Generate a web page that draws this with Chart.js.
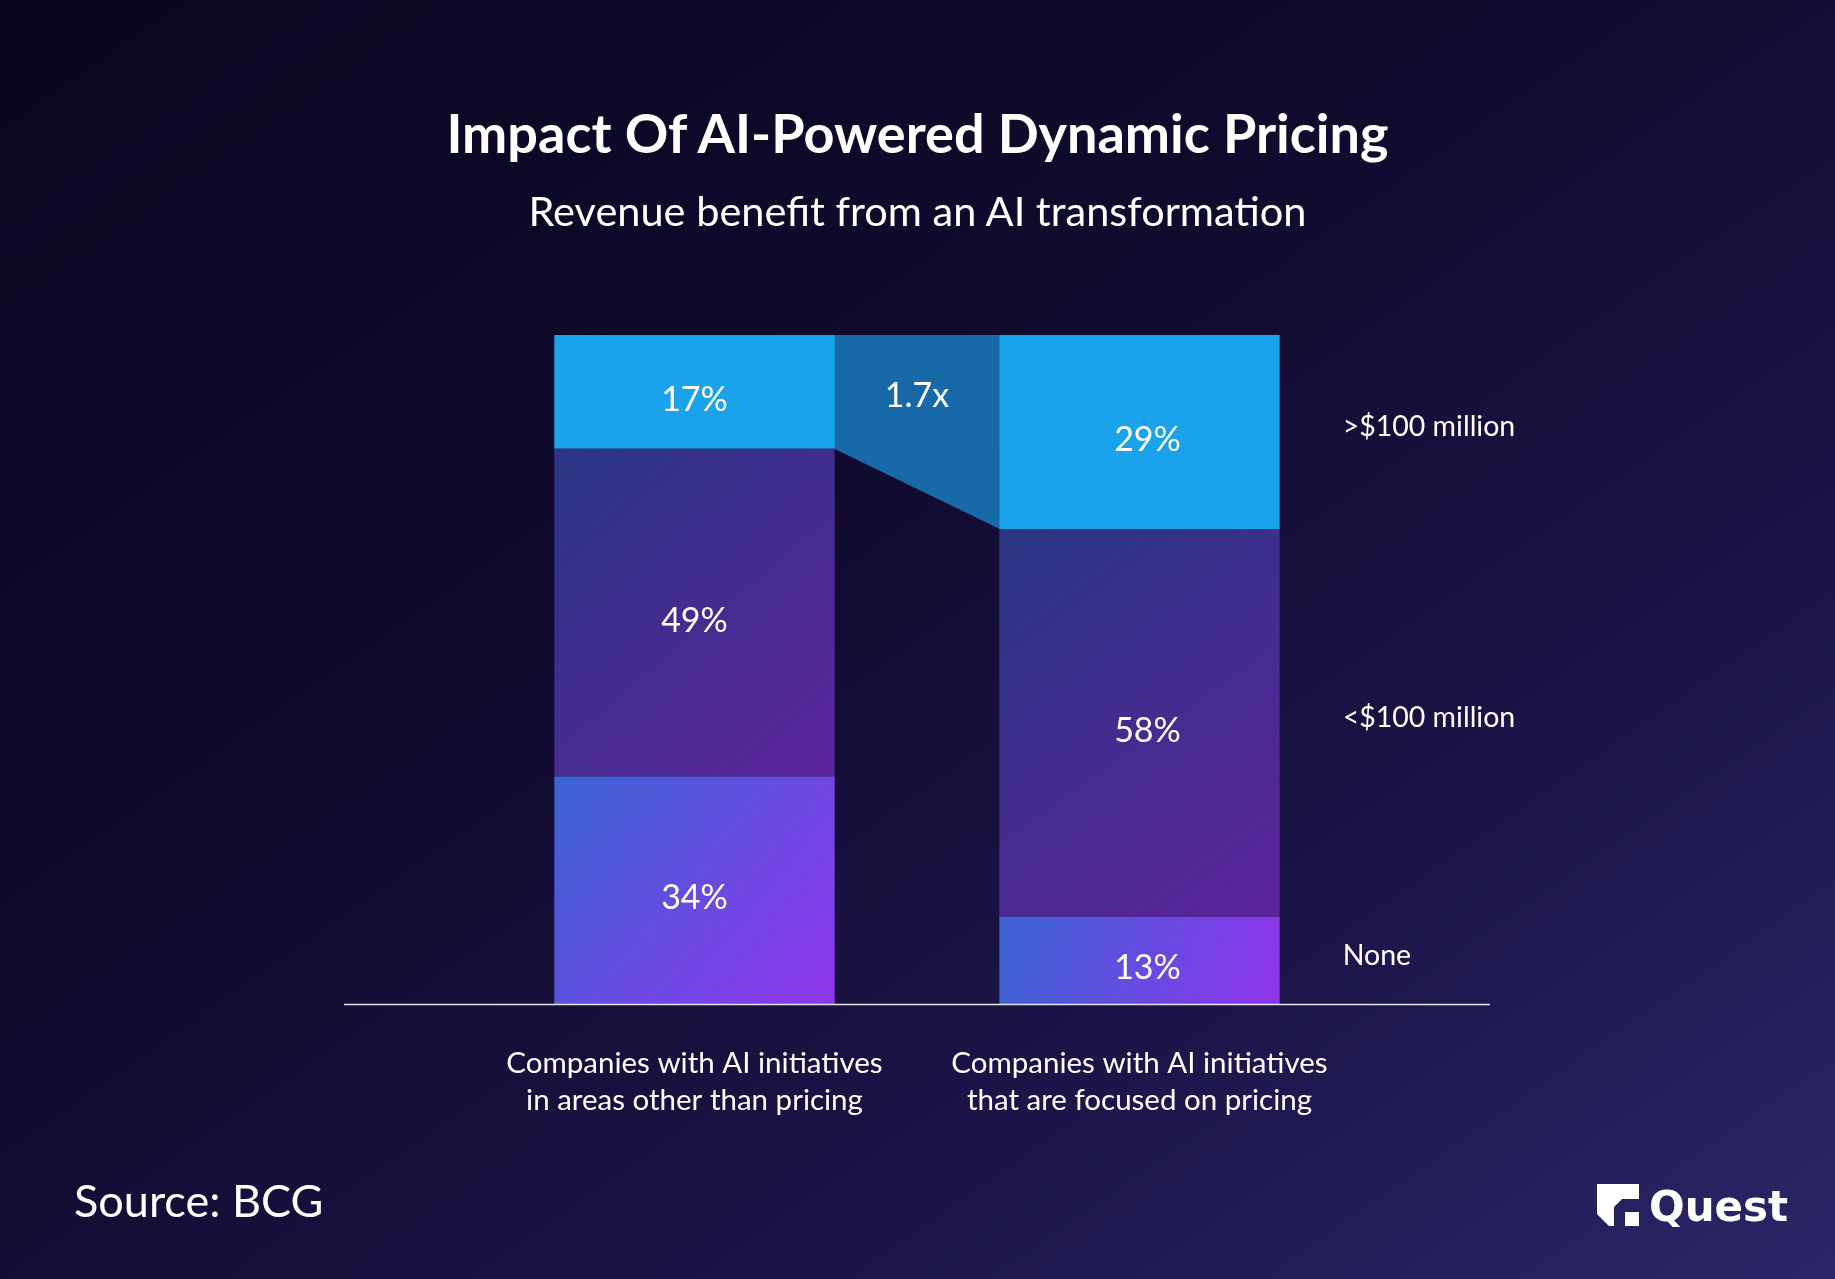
<!DOCTYPE html>
<html>
<head>
<meta charset="utf-8">
<script src="https://cdn.jsdelivr.net/npm/chart.js@4.4.1/dist/chart.umd.min.js"></script>
<style>
html,body{margin:0;padding:0;width:1835px;height:1279px;overflow:hidden;}
body{
  position:relative;
  background:linear-gradient(to bottom right,#0a0520 0%,#110a2d 40%,#1b1549 72%,#2b2668 100%);
  font-family:Lato,"Open Sans",sans-serif;color:#fff;
}
#chartBox{position:absolute;left:0;top:0;width:1835px;height:1279px;}
.txt{position:absolute;line-height:1;white-space:nowrap;}
#title{left:0;width:1835px;text-align:center;top:106px;font-size:54px;font-weight:700;}
#subtitle{left:0;width:1835px;text-align:center;top:190px;font-size:41.5px;font-weight:400;}
#source{left:74px;top:1178px;font-size:45px;font-weight:400;}
#logo{position:absolute;left:1597px;top:1184px;height:42px;}
#logo svg{position:absolute;left:0;top:0;}
#logo span{position:absolute;left:52px;top:2px;font-family:"DejaVu Sans",sans-serif;font-weight:700;font-size:42px;line-height:1;letter-spacing:0px;}
</style>
</head>
<body>
<div id="chartBox"><canvas id="c"></canvas></div>
<div class="txt" id="title">Impact Of AI-Powered Dynamic Pricing</div>
<div class="txt" id="subtitle">Revenue benefit from an AI transformation</div>
<div class="txt" id="source">Source: BCG</div>
<div id="logo">
  <svg width="42" height="42" viewBox="0 0 42 42">
    <path d="M0 0 H42 V15 H25 L17 23 V42 H12 L0 30 Z" fill="#fff"/>
    <path d="M28 28 H42 V42 H28 Z" fill="#fff"/>
  </svg>
  <span>Quest</span>
</div>
<script>
// ---- data ----
const categories = [
  ["Companies with AI initiatives", "in areas other than pricing"],
  ["Companies with AI initiatives", "that are focused on pricing"]
];
const seriesNames = ["None", "<$100 million", ">$100 million"];
const noneValues = [34, 13];
const underValues = [49, 58];
const overValues = [17, 29];
const multiplierLabel = "1.7x";

// ---- styles ----
const BAR_PCT = 0.63;
const LABEL_FONT = "34px Lato, sans-serif";

function segGradient(c0, c1) {
  return function (ctx) {
    const chart = ctx.chart;
    const xs = chart.scales.x, ys = chart.scales.y;
    if (ctx.type !== 'data' || !xs || !ys || !xs.width) return c0;
    const j = ctx.dataIndex, di = ctx.datasetIndex;
    let base = 0;
    for (let k = 0; k < di; k++) base += chart.data.datasets[k].data[j];
    const v = chart.data.datasets[di].data[j];
    const yTop = ys.getPixelForValue(base + v), yBot = ys.getPixelForValue(base);
    const xc = xs.getPixelForValue(j);
    const w = xs.width / chart.data.labels.length * BAR_PCT;
    const g = chart.ctx.createLinearGradient(xc - w / 2, yTop, xc + w / 2, yBot);
    g.addColorStop(0, c0);
    g.addColorStop(1, c1);
    return g;
  };
}

const decor = {
  id: 'decor',
  beforeDatasetsDraw(chart) {
    const ctx = chart.ctx;
    const top = chart.getDatasetMeta(2).data;
    const L = top[0], R = top[1];
    const lx = L.x + L.width / 2, rx = R.x - R.width / 2;
    ctx.save();
    ctx.fillStyle = '#1769a7';
    ctx.beginPath();
    ctx.moveTo(lx - 0.5, L.y);
    ctx.lineTo(rx + 0.5, R.y);
    ctx.lineTo(rx + 0.5, R.base);
    ctx.lineTo(lx - 0.5, L.base);
    ctx.closePath();
    ctx.fill();
    ctx.restore();
  },
  afterDatasetsDraw(chart) {
    const ctx = chart.ctx;
    const area = chart.chartArea;
    ctx.save();
    ctx.fillStyle = '#ffffff';
    ctx.textAlign = 'center';
    ctx.textBaseline = 'middle';
    ctx.font = LABEL_FONT;
    chart.data.datasets.forEach((ds, di) => {
      chart.getDatasetMeta(di).data.forEach((el, j) => {
        const cy = (el.y + el.base) / 2 + 8;
        ctx.fillText(ds.data[j] + '%', el.x + (j === 1 ? 8 : 0), cy);
      });
    });
    // multiplier
    const top = chart.getDatasetMeta(2).data;
    const L = top[0], R = top[1];
    ctx.fillText(multiplierLabel, ((L.x + L.width / 2) + (R.x - R.width / 2)) / 2, (L.y + L.base) / 2 + 4);
    // series names on the right
    ctx.textAlign = 'left';
    ctx.font = "28.5px Lato, sans-serif";
    chart.data.datasets.forEach((ds, di) => {
      const el = chart.getDatasetMeta(di).data[1];
      ctx.fillText(ds.label, el.x + el.width / 2 + 63, (el.y + el.base) / 2 - 5);
    });
    // category labels
    ctx.textAlign = 'center';
    ctx.font = "29.5px Lato, sans-serif";
    const meta0 = chart.getDatasetMeta(0).data;
    chart.data.labels.forEach((lab, j) => {
      const x = meta0[j].x;
      lab.forEach((line, k) => ctx.fillText(line, x, area.bottom + 59 + k * 37));
    });
    // baseline
    ctx.strokeStyle = '#e6e6f0';
    ctx.lineWidth = 1.5;
    ctx.beginPath();
    ctx.moveTo(area.left - 128, area.bottom + 0.5);
    ctx.lineTo(area.right + 128, area.bottom + 0.5);
    ctx.stroke();
    ctx.restore();
  }
};

new Chart(document.getElementById('c'), {
  type: 'bar',
  data: {
    labels: categories,
    datasets: [
      { label: seriesNames[0], data: noneValues, backgroundColor: segGradient('#3a64d4', '#9035ec') },
      { label: seriesNames[1], data: underValues, backgroundColor: segGradient('#293683', '#5c249b') },
      { label: seriesNames[2], data: overValues, backgroundColor: '#1aa2ea' }
    ]
  },
  options: {
    responsive: true,
    maintainAspectRatio: false,
    animation: false,
    layout: { padding: { left: 472, right: 473, top: 335, bottom: 275 } },
    datasets: { bar: { categoryPercentage: 1, barPercentage: BAR_PCT, borderWidth: 0 } },
    scales: {
      x: { stacked: true, display: false },
      y: { stacked: true, display: false, min: 0, max: 100 }
    },
    plugins: { legend: { display: false }, tooltip: { enabled: false } }
  },
  plugins: [decor]
});
</script>
</body>
</html>
